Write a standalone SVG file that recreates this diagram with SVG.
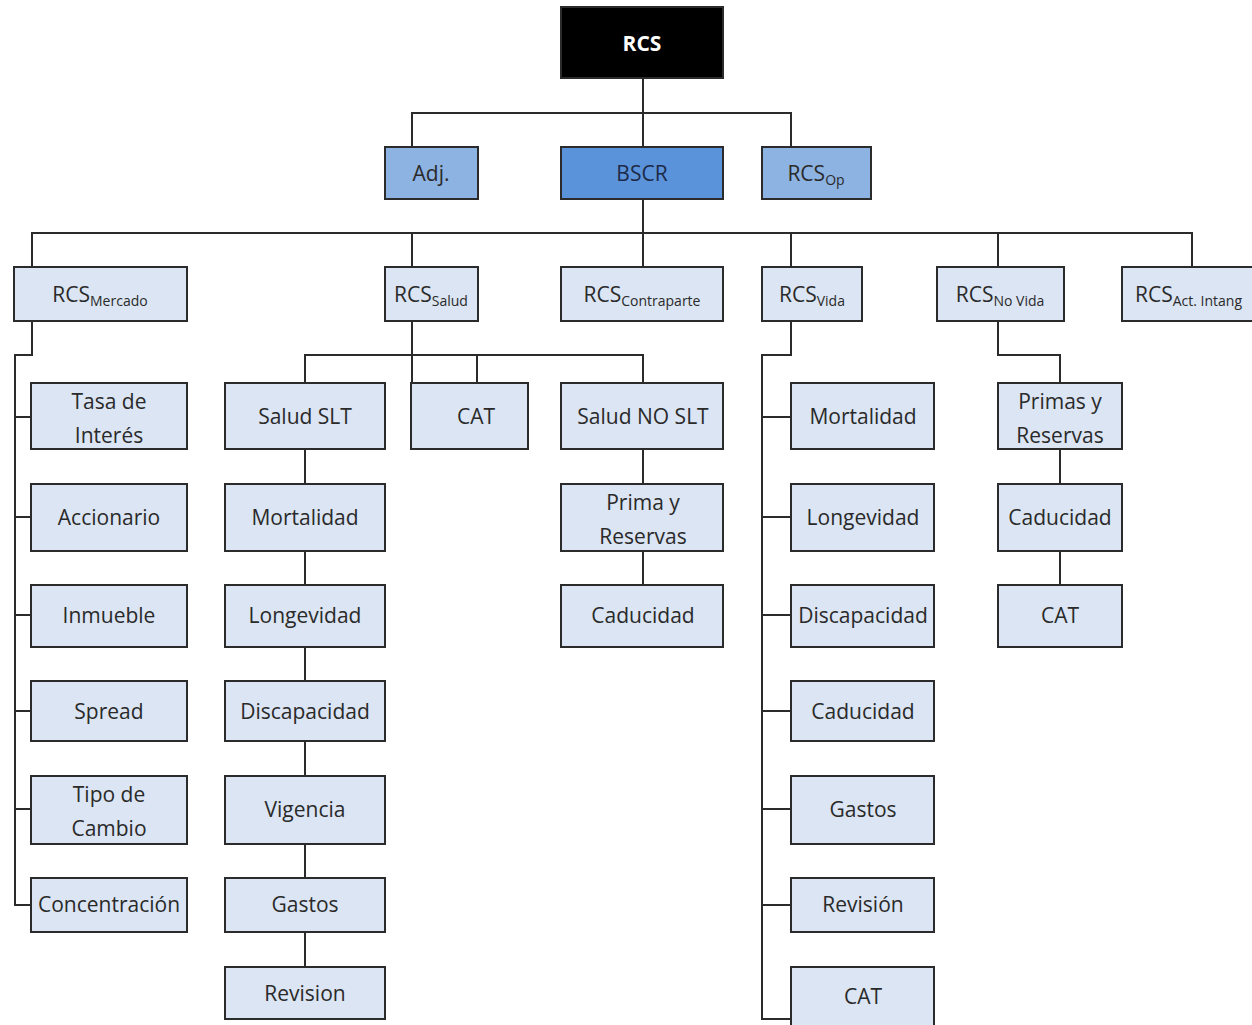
<svg xmlns="http://www.w3.org/2000/svg" width="1252" height="1025" viewBox="0 0 1252 1025">
<style>
.b{fill:#dbe5f3;stroke:#2b2b2b;stroke-width:2}
.m{fill:#8db3e2;stroke:#2b2b2b;stroke-width:2}
.d{fill:#5b93db;stroke:#2b2b2b;stroke-width:2}
.k{fill:#000;stroke:#2b2b2b;stroke-width:2}
text{font-family:"Open Sans","Noto Sans","Liberation Sans",sans-serif;font-size:21px;fill:#2a2a2a;text-anchor:middle;dominant-baseline:central}
.w{fill:#fff;font-weight:bold}
.s{font-size:14px}
.c path{fill:none;stroke:#2b2b2b;stroke-width:2}
</style>
<rect width="1252" height="1025" fill="#fff"/>
<g class="c" id="connectors">
<path d="M643 78V147M412 147V113H791V147"/>
<path d="M643 199V267M32 267V233H1192V267M412 233V267M791 233V267M998 233V267"/>
<path d="M32 321V355H15V905H31M15 417H31M15 517H31M15 615H31M15 711H31M15 809H31"/>
<path d="M412 321V383M305 383V355H643V383M477 355V383"/>
<path d="M305 449V484M305 551V585M305 647V681M305 741V776M305 844V878M305 932V967"/>
<path d="M643 449V484M643 551V585"/>
<path d="M791 321V355H762V1019H791M762 417H791M762 517H791M762 615H791M762 711H791M762 809H791M762 905H791"/>
<path d="M998 321V355H1060V383M1060 449V484M1060 551V585"/>
</g>
<g id="n-rcs"><rect class="k" x="561" y="7" width="162" height="71"/><text class="w" x="642" y="43">RCS</text></g>
<g id="n-adj"><rect class="m" x="385" y="147" width="93" height="52"/><text x="431" y="173">Adj.</text></g>
<g id="n-bscr"><rect class="d" x="561" y="147" width="162" height="52"/><text x="642" y="173" style="fill:#1c2a48">BSCR</text></g>
<g id="n-rcsop"><rect class="m" x="762" y="147" width="109" height="52"/><text x="816" y="173">RCS<tspan class="s" dy="6">Op</tspan></text></g>
<g id="n-mercado"><rect class="b" x="14" y="267" width="173" height="54"/><text x="100" y="294">RCS<tspan class="s" dy="6">Mercado</tspan></text></g>
<g id="n-salud"><rect class="b" x="385" y="267" width="93" height="54"/><text x="431" y="294">RCS<tspan class="s" dy="6">Salud</tspan></text></g>
<g id="n-contraparte"><rect class="b" x="561" y="267" width="162" height="54"/><text x="642" y="294">RCS<tspan class="s" dy="6">Contraparte</tspan></text></g>
<g id="n-vida"><rect class="b" x="762" y="267" width="100" height="54"/><text x="812" y="294">RCS<tspan class="s" dy="6">Vida</tspan></text></g>
<g id="n-novida"><rect class="b" x="937" y="267" width="127" height="54"/><text x="1000" y="294">RCS<tspan class="s" dy="6">No Vida</tspan></text></g>
<g id="n-intang"><rect class="b" x="1122" y="267" width="132" height="54"/><text x="1135" y="294" style="text-anchor:start">RCS<tspan class="s" dy="6">Act. Intang</tspan></text></g>
<g id="n-tasa"><rect class="b" x="31" y="383" width="156" height="66"/><text x="109" y="401">Tasa de</text><text x="109" y="435">Interés</text></g>
<g id="n-accionario"><rect class="b" x="31" y="484" width="156" height="67"/><text x="109" y="517">Accionario</text></g>
<g id="n-inmueble"><rect class="b" x="31" y="585" width="156" height="62"/><text x="109" y="615">Inmueble</text></g>
<g id="n-spread"><rect class="b" x="31" y="681" width="156" height="60"/><text x="109" y="711">Spread</text></g>
<g id="n-tipo"><rect class="b" x="31" y="776" width="156" height="68"/><text x="109" y="794">Tipo de</text><text x="109" y="828">Cambio</text></g>
<g id="n-concentracion"><rect class="b" x="31" y="878" width="156" height="54"/><text x="109" y="904">Concentración</text></g>
<g id="n-saludslt"><rect class="b" x="225" y="383" width="160" height="66"/><text x="305" y="416">Salud SLT</text></g>
<g id="n-s-mort"><rect class="b" x="225" y="484" width="160" height="67"/><text x="305" y="517">Mortalidad</text></g>
<g id="n-s-long"><rect class="b" x="225" y="585" width="160" height="62"/><text x="305" y="615">Longevidad</text></g>
<g id="n-s-disc"><rect class="b" x="225" y="681" width="160" height="60"/><text x="305" y="711">Discapacidad</text></g>
<g id="n-s-vig"><rect class="b" x="225" y="776" width="160" height="68"/><text x="305" y="809">Vigencia</text></g>
<g id="n-s-gastos"><rect class="b" x="225" y="878" width="160" height="54"/><text x="305" y="904">Gastos</text></g>
<g id="n-s-rev"><rect class="b" x="225" y="967" width="160" height="52"/><text x="305" y="993">Revision</text></g>
<g id="n-s-cat"><rect class="b" x="411" y="383" width="117" height="66"/><text x="476" y="416">CAT</text></g>
<g id="n-saludnoslt"><rect class="b" x="561" y="383" width="162" height="66"/><text x="643" y="416">Salud NO SLT</text></g>
<g id="n-prima"><rect class="b" x="561" y="484" width="162" height="67"/><text x="643" y="502">Prima y</text><text x="643" y="536">Reservas</text></g>
<g id="n-ns-cad"><rect class="b" x="561" y="585" width="162" height="62"/><text x="643" y="615">Caducidad</text></g>
<g id="n-v-mort"><rect class="b" x="791" y="383" width="143" height="66"/><text x="863" y="416">Mortalidad</text></g>
<g id="n-v-long"><rect class="b" x="791" y="484" width="143" height="67"/><text x="863" y="517">Longevidad</text></g>
<g id="n-v-disc"><rect class="b" x="791" y="585" width="143" height="62"/><text x="863" y="615">Discapacidad</text></g>
<g id="n-v-cad"><rect class="b" x="791" y="681" width="143" height="60"/><text x="863" y="711">Caducidad</text></g>
<g id="n-v-gastos"><rect class="b" x="791" y="776" width="143" height="68"/><text x="863" y="809">Gastos</text></g>
<g id="n-v-rev"><rect class="b" x="791" y="878" width="143" height="54"/><text x="863" y="904">Revisión</text></g>
<g id="n-v-cat"><rect class="b" x="791" y="967" width="143" height="62"/><text x="863" y="996">CAT</text></g>
<g id="n-primas"><rect class="b" x="998" y="383" width="124" height="66"/><text x="1060" y="401">Primas y</text><text x="1060" y="435">Reservas</text></g>
<g id="n-nv-cad"><rect class="b" x="998" y="484" width="124" height="67"/><text x="1060" y="517">Caducidad</text></g>
<g id="n-nv-cat"><rect class="b" x="998" y="585" width="124" height="62"/><text x="1060" y="615">CAT</text></g>
</svg>
